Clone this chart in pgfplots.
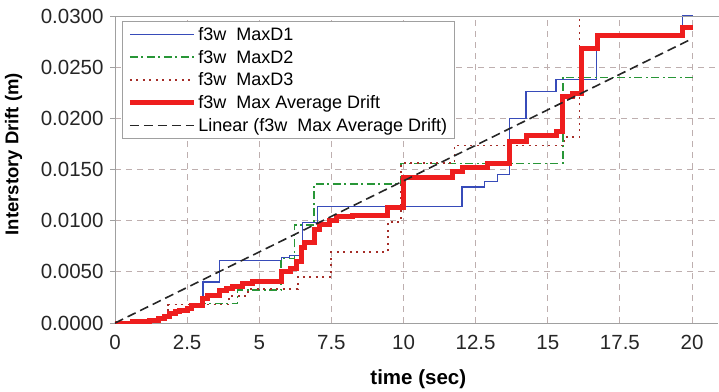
\documentclass[border=0pt]{standalone}
\usepackage{pgfplots}
\pgfplotsset{compat=1.18}
\usepackage{fontspec}
\setmainfont{Liberation Sans}
\definecolor{cBlue}{RGB}{55,75,185}
\definecolor{cGreen}{RGB}{40,150,55}
\definecolor{cBrown}{RGB}{165,45,40}
\definecolor{cRed}{RGB}{238,30,30}
\definecolor{cGrid}{RGB}{190,175,175}
\definecolor{cAxis}{RGB}{160,160,160}
\begin{document}
\begin{tikzpicture}
\begin{axis}[
  at={(0,0)}, anchor=south west,
  scale only axis, width=603pt, height=307pt,
  xmin=0, xmax=20.9, ymin=0, ymax=0.03,
  axis x line*=bottom, axis y line*=left,
  axis line style={cAxis, line width=0.9pt, -},
  xtick={0,2.5,...,20}, ytick={0,0.005,...,0.0301},
  xticklabels={0,2.5,5,7.5,10,12.5,15,17.5,20},
  scaled y ticks=false,
  yticklabel style={/pgf/number format/fixed, /pgf/number format/fixed zerofill, /pgf/number format/precision=4, xshift=-3pt},
  /pgf/number format/assume math mode=true,
  tick label style={font=\fontsize{20.5}{23}\selectfont, text=black!85},
  xticklabel style={yshift=-4pt},
  tick align=outside, major tick length=5pt,
  xtick style={draw=none}, ytick style={cAxis, line width=0.9pt},
  grid=major,
  grid style={cGrid, line width=0.9pt, dash pattern=on 6pt off 5pt},
  xlabel={time (sec)}, ylabel={Interstory Drift (m)},
  xlabel style={font=\bfseries\fontsize{20.5}{22}\selectfont, at={(axis description cs:0.503,-0.182)}, anchor=center},
  ylabel style={font=\bfseries\fontsize{18.5}{20}\selectfont, at={(axis description cs:-0.168,0.55)}, anchor=center},
  legend cell align=left,
  legend image code/.code={\draw[#1] plot coordinates {(0pt,0pt) (64pt,0pt)};},
  legend style={at={(axis description cs:0.0116,0.984)}, anchor=north west,
    draw=cAxis, line width=0.7pt, fill=white, font=\fontsize{18}{19}\selectfont,
    row sep=4.2pt, inner xsep=5pt, inner ysep=4pt},
]
\addplot[const plot, cBlue, line width=1.3pt] coordinates {
(0,0) (0.8,0.0001) (1.2,0.0003) (1.7,0.0006) (1.9,0.0009) (2.2,0.0012) (2.5,0.0014) (2.65,0.0017)
(3.05,0.0040) (3.62,0.0061) (5.76,0.0064) (6.05,0.0066) (6.5,0.0098) (7.02,0.0114)
(12.03,0.0133) (12.81,0.0138) (13.25,0.0145) (13.67,0.0200) (14.25,0.0226) (15.29,0.0238)
(16.68,0.0279) (19.68,0.0300) (20.03,0.0300)};
\addlegendentry{f3w\ \ MaxD1}
\addplot[const plot, cGreen, line width=1.6pt, dash pattern=on 8pt off 3.5pt on 2pt off 3.5pt] coordinates {
(0,0) (1.0,0.0002) (1.5,0.0005) (1.8,0.0009) (2.1,0.0013) (2.6,0.0016) (3.04,0.0019)
(4.25,0.0032) (5.76,0.0063) (6.22,0.0096) (6.9,0.0136) (9.92,0.0156) (15.52,0.0240) (20.03,0.0240)};
\addlegendentry{f3w\ \ MaxD2}
\addplot[const plot, cBrown, line width=1.8pt, dash pattern=on 2pt off 4.5pt] coordinates {
(0,0) (1.0,0.0002) (1.5,0.0005) (1.85,0.0018) (3.95,0.0026) (4.6,0.0033) (6.33,0.0045)
(7.49,0.0069) (9.46,0.0099) (9.9,0.0156) (11.77,0.01735) (15.58,0.0182) (16.1,0.0320) (20,0.0320)};
\addlegendentry{f3w\ \ MaxD3}
\addplot[const plot, cRed, line width=5pt] coordinates {
(0,0) (0.6,0.0001) (1.2,0.00026) (1.5,0.0004) (1.72,0.0006) (1.89,0.0009) (2.1,0.0011)
(2.24,0.00124) (2.52,0.0014) (2.64,0.0017) (3.04,0.0024) (3.22,0.0027) (3.62,0.0032)
(3.85,0.00336) (4.08,0.0036) (4.43,0.0039) (4.78,0.0041) (5.76,0.0050) (6.10,0.0053)
(6.28,0.0060) (6.45,0.0074) (6.57,0.0079) (6.92,0.0091) (7.09,0.0096) (7.43,0.0100)
(7.67,0.0104) (8.24,0.0105) (9.45,0.0113) (10.0,0.0142) (11.71,0.0148) (12.06,0.0152)
(12.92,0.0156) (13.67,0.0177) (14.25,0.0183) (15.29,0.0187) (15.52,0.0221) (15.85,0.0224)
(16.16,0.0268) (16.73,0.0281) (19.68,0.0289) (20.03,0.0289)};
\addlegendentry{f3w\ \ Max Average Drift}
\addplot[black!85, line width=1.6pt, dash pattern=on 9pt off 5pt] coordinates {(0,0) (20,0.02778)};
\addlegendentry{Linear (f3w\ \ Max Average Drift)}
\end{axis}
\draw[cAxis, line width=0.9pt] (0pt,307pt) -- (604pt,307pt);
\pgfresetboundingbox
\useasboundingbox (-115pt,-68pt) rectangle (604pt,323pt);
\end{tikzpicture}
\end{document}
